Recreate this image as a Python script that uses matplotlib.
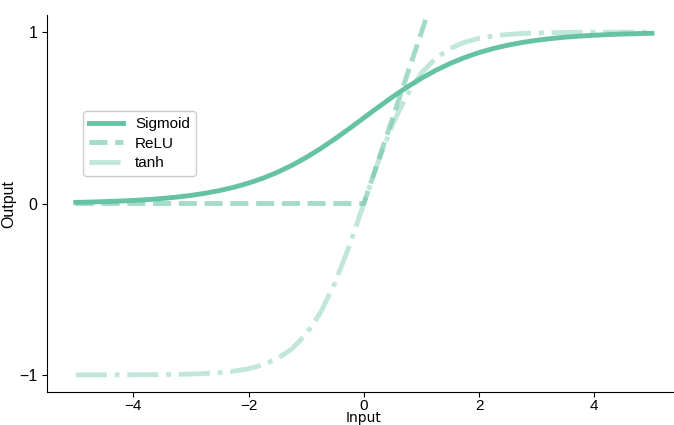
import numpy as np
import matplotlib.pyplot as plt

# sample inputs (step 0.25) and curve values
x_vals = np.arange(-20, 21) / 4.0

sigmoid_pos = [0.5, 0.5622, 0.6225, 0.6792, 0.7311, 0.7773, 0.8176, 0.8520,
               0.8808, 0.9047, 0.9241, 0.9399, 0.9526, 0.9627, 0.9707, 0.9770,
               0.9820, 0.9859, 0.9890, 0.9914, 0.9933]
tanh_pos = [0.0, 0.2449, 0.4621, 0.6351, 0.7616, 0.8483, 0.9051, 0.9414,
            0.9640, 0.9780, 0.9866, 0.9919, 0.9951, 0.9970, 0.9982, 0.9989,
            0.9993, 0.9996, 0.9998, 0.9999, 0.9999]

sigmoid_vals = [1 - v for v in sigmoid_pos[:0:-1]] + sigmoid_pos
tanh_vals = [-v for v in tanh_pos[:0:-1]] + tanh_pos

relu_x = [-5, 0, 5]
relu_vals = [0, 0, 5]

x_ticks = [-4, -2, 0, 2, 4]
y_ticks = [-1, 0, 1]

color = '#66c2a5'

plt.rcParams['font.family'] = ['Liberation Sans', 'DejaVu Sans']

fig = plt.figure(figsize=(6.74, 4.25), dpi=100)
ax = fig.add_axes([0.0697, 0.0776, 0.9403, 0.8871])

ax.plot(x_vals, sigmoid_vals, '-', color=color, linewidth=3.5, label='Sigmoid')
ax.plot(relu_x, relu_vals, '--', color=color, alpha=0.6, linewidth=3.5, label='ReLU')
ax.plot(x_vals, tanh_vals, '-.', color=color, alpha=0.4, linewidth=3.5, label='tanh')

ax.set_xlim(-5.5, 5.5)
ax.set_ylim(-1.1, 1.1)
ax.set_xticks(x_ticks)
ax.set_yticks(y_ticks)
ax.set_xticklabels([f'\u2212{abs(t)}' if t < 0 else str(t) for t in x_ticks])
ax.set_yticklabels([f'\u2212{abs(t)}' if t < 0 else str(t) for t in y_ticks])
ax.tick_params(labelsize=11.5)
ax.tick_params(axis='x', pad=1.5, labelsize=11)

ax.set_xlabel('Input', fontsize=10, family='DejaVu Sans', labelpad=-1.5)
ax.set_ylabel('Output', fontsize=11.5, labelpad=2)

ax.spines['top'].set_visible(False)
ax.spines['right'].set_visible(False)

ax.legend(loc='upper left', bbox_to_anchor=(0.045, 0.765), fontsize=11,
          handlelength=2.2, labelspacing=0.35, framealpha=1)

fig.savefig('out.png', dpi=100)
